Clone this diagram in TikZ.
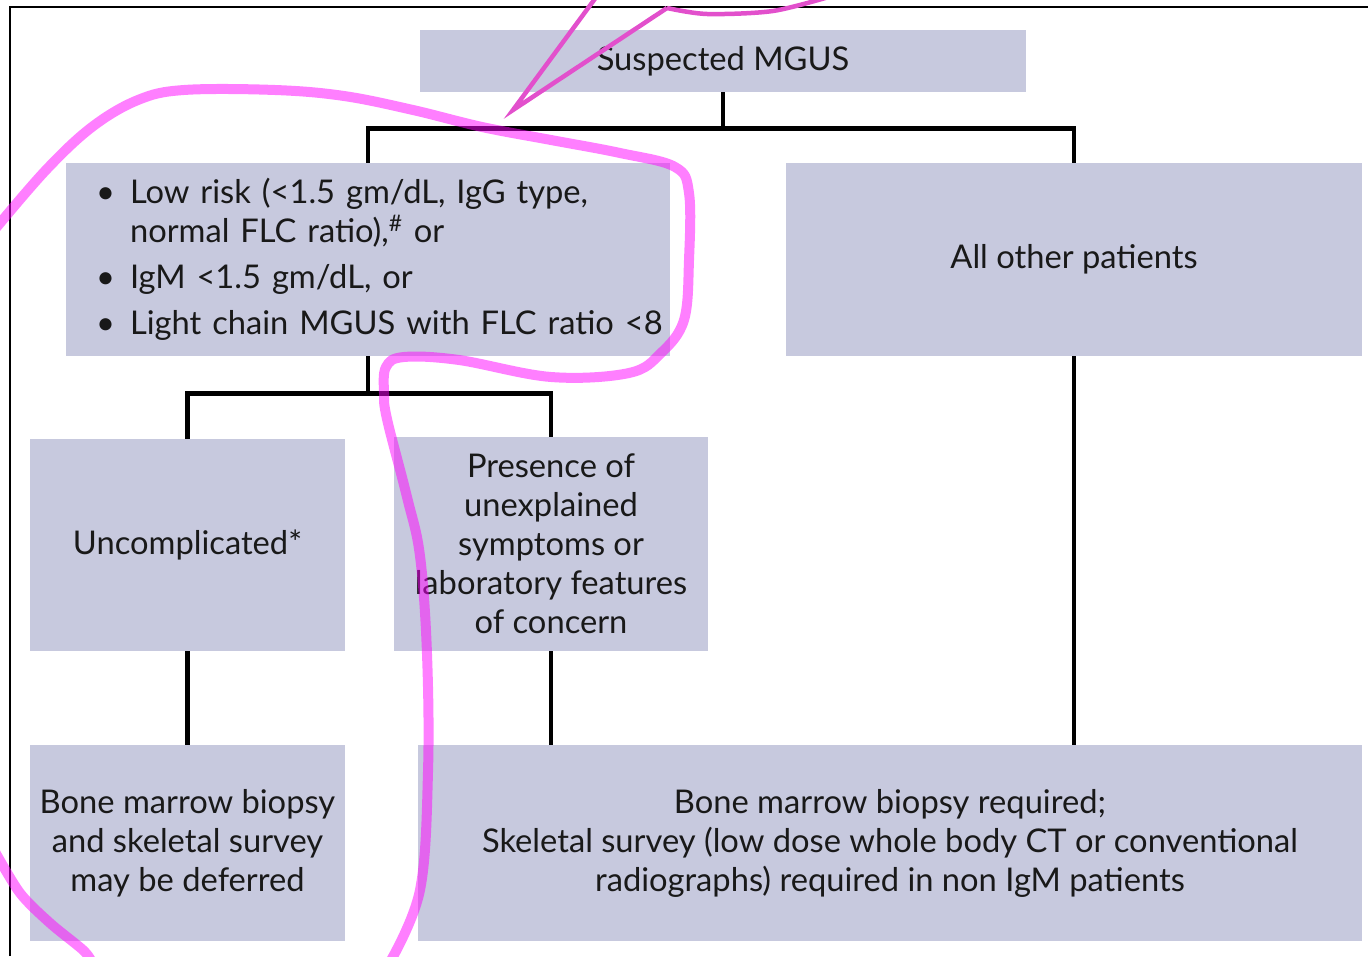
\documentclass[tikz,border=0pt]{standalone}
\usepackage{fontspec}
\setmainfont{Lato}
\usepackage{tikz}
\usetikzlibrary{positioning,calc}
\definecolor{boxgray}{RGB}{199,201,222}
\definecolor{penpink}{RGB}{255,0,255}
\definecolor{penline}{RGB}{226,80,204}
\newcommand{\bitem}[1]{\mbox{\makebox[0.68cm][l]{\textbullet}#1}}

\begin{document}
\begin{tikzpicture}[x=0.02cm, y=-0.02cm,
        box/.style={rectangle, fill=boxgray, inner sep=0pt,
                    align=center, text=black!90,
                    font=\fontsize{18.6}{22.2}\selectfont},
        link/.style={draw=black, line width=0.09cm},
        hilite/.style={draw=penpink, opacity=0.5, line width=0.2cm,
                       line cap=round, line join=round},
        pointer/.style={draw=penline, line width=0.09cm}]

        \useasboundingbox (0,0) rectangle (1368,956);

        % page frame
        \draw[line width=0.04cm] (10,956) -- (10,7) -- (1368,7);

        % Suspected MGUS node
        \node[box, minimum width=12.12cm, minimum height=1.24cm] (top) at (723,61)
            {Suspected MGUS};

        % low risk node
        \node[box, minimum width=12.08cm, minimum height=3.86cm,
              text width=10.88cm, align=left] (lowrisk) at (368,259.5)
            {\bitem{Low risk (<1.5 gm/dL, IgG type,}\\
             \hspace*{0.68cm}normal FLC ratio),\textsuperscript{\#} or\\[4pt]
             \bitem{IgM <1.5 gm/dL, or}\\[4pt]
             \bitem{Light chain MGUS with FLC ratio <8}};

        % all other patients node
        \node[box, minimum width=11.52cm, minimum height=3.86cm] (allother) at (1074,259.5)
            {All other patients};

        % second row
        \node[box, minimum width=6.3cm, minimum height=4.24cm] (uncomp) at (187.5,545)
            {Uncomplicated*};
        \node[box, minimum width=6.28cm, minimum height=4.28cm] (presence) at (551,544)
            {Presence of\\unexplained\\symptoms or\\laboratory features\\of concern};

        % bottom row
        \node[box, minimum width=6.3cm, minimum height=3.92cm] (deferred) at (187.5,843)
            {Bone marrow biopsy\\and skeletal survey\\may be deferred};
        \node[box, minimum width=18.88cm, minimum height=3.92cm] (required) at (890,843)
            {Bone marrow biopsy required;\\
             Skeletal survey (low dose whole body CT or conventional\\
             radiographs) required in non IgM patients};

        % connectors
        \draw[link] (top.south) -- ++(0,36) coordinate (b1);
        \draw[link] (lowrisk.north) |- (b1) -| (allother.north);
        \draw[link] (lowrisk.south) -- ++(0,37) coordinate (b2);
        \draw[link] (uncomp.north) |- (b2) -| (presence.north);
        \draw[link] (uncomp.south) -- (deferred.north);
        \draw[link] (presence.south) -- (presence.south |- required.north);
        \draw[link] (allother.south) -- (allother.south |- required.north);

        % pen marks
        \draw[hilite] plot[smooth, tension=0.6] coordinates {
            (-4,228) (46,170) (92,127) (138,100) (184,90) (275,90)
            (344,96) (413,110) (482,127) (551,140) (620,153) (675,167)
            (689,193) (689,260) (684,320) (661,353) (629,373) (551,377)
            (459,360) (404,357) (386,367) (384,393) (387,419) (407,497)
            (420,556) (427,654) (428,772) (420,890) (390,962)};
        \draw[hilite] plot[smooth] coordinates {
            (-6,850) (20,893) (50,923) (83,950) (92,962)};
        \draw[pointer] (597,-4) -- (513,110) -- (667,8);
        \draw[pointer] plot[smooth] coordinates {
            (667,8) (707,14) (773,11) (832,-4)};

    \end{tikzpicture}
\end{document}
